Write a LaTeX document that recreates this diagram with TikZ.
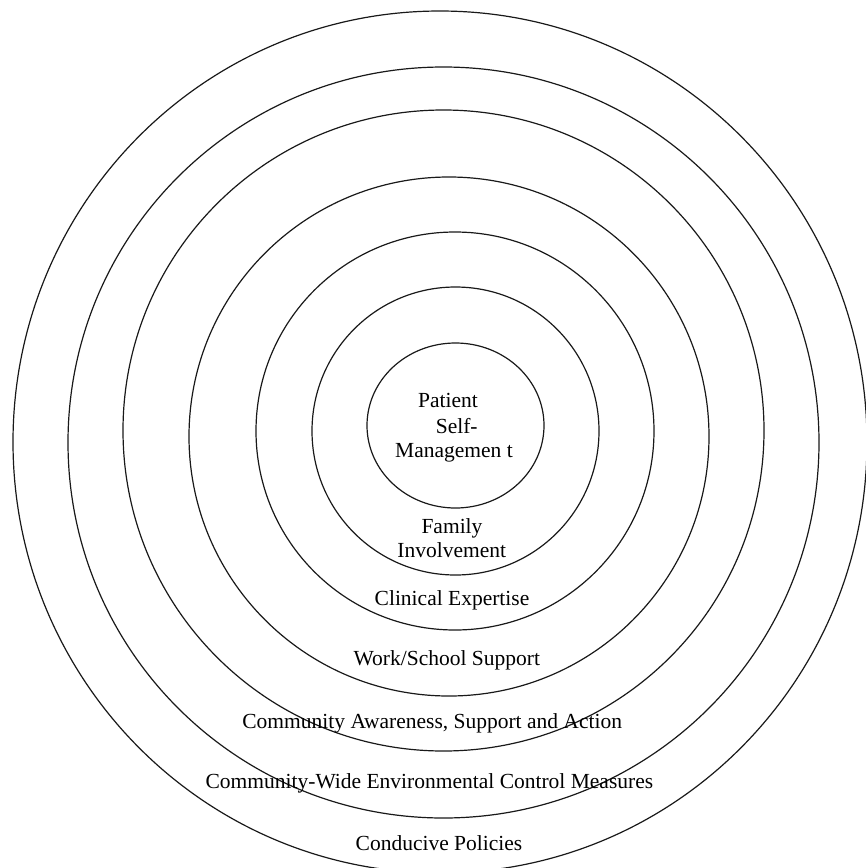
\documentclass[tikz,border=0pt]{standalone}
\usepackage{fontspec}
\setmainfont{Liberation Serif}
\usepackage{tikz}

\begin{document}
\begin{tikzpicture}[x=1pt,y=-1pt,
  ring/.style={draw=black!90,line width=1.2pt},
  lbl/.style={anchor=base,inner sep=0pt,font=\fontsize{21.5}{26}\selectfont}]
\useasboundingbox (0,0) rectangle (866,868);
% rings, outside in
\draw[ring] (440,442) ellipse [x radius=427pt,y radius=431pt];
\draw[ring] (443.5,442.5) ellipse [x radius=375.5pt,y radius=375.5pt];
\draw[ring] (443.5,430.5) ellipse [x radius=320.5pt,y radius=320.5pt];
\draw[ring] (449,436.5) ellipse [x radius=260pt,y radius=259.5pt];
\draw[ring] (455,431) ellipse [x radius=199pt,y radius=199pt];
\draw[ring] (455.5,431) ellipse [x radius=143.5pt,y radius=144pt];
\draw[ring] (455.5,425.5) ellipse [x radius=88.5pt,y radius=82.5pt];
% labels
\node[lbl] (patient) at (448,407) {Patient};
\node[lbl] (self) at (456.7,433) {Self-};
\node[lbl] (mgmt) at (454,457) {Managemen t};
\node[lbl] (family) at (452,533) {Family};
\node[lbl] (involve) at (451.7,557) {Involvement};
\node[lbl] (clinical) at (452,605) {Clinical Expertise};
\node[lbl] (work) at (446.8,665.7) {Work/School Support};
\node[lbl] (awareness) at (432.2,728) {Community Awareness, Support and Action};
\node[lbl] (envctrl) at (429.4,788) {Community-Wide Environmental Control Measures};
\node[lbl] (policies) at (439,850.7) {Conducive Policies};
\end{tikzpicture}
\end{document}
